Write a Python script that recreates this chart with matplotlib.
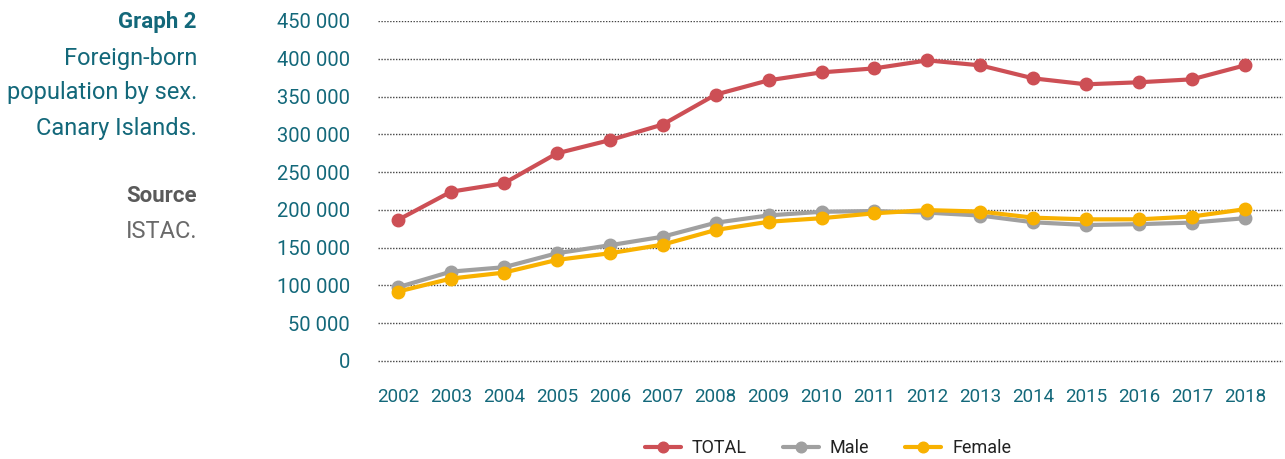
import matplotlib.pyplot as plt
from matplotlib.ticker import FuncFormatter

# Foreign-born population by sex, Canary Islands
years = list(range(2002, 2019))
total = [186800, 224100, 235200, 274800, 292300, 313000, 352600, 371500, 382000,
         387300, 397900, 391300, 374100, 366200, 368900, 372800, 391300]
male = [97700, 118300, 124100, 142600, 153200, 164500, 183000, 192700, 197500,
        198500, 196400, 192500, 183600, 180000, 181100, 183200, 189000]
female = [91900, 109100, 117000, 133800, 142600, 154000, 173400, 184300, 189000,
          195500, 199700, 197800, 189700, 187500, 187500, 191200, 200900]

series_names = ['TOTAL', 'Male', 'Female']
series_colors = ['#cd4f55', '#a0a0a0', '#f8b100']

TEAL = '#13687a'
plt.rcParams['font.family'] = ['Roboto', 'DejaVu Sans']

fig = plt.figure(figsize=(12.85, 4.59), dpi=100)
# axes box: y=0 at 361 px, 450 000 at 21 px; a little room below zero for the grid line
ax = fig.add_axes([378 / 1285, 1 - 364 / 459, (1283 - 378) / 1285, (364 - 21) / 459])

for vals, name, col in zip([total, male, female], series_names, series_colors):
    ax.plot(years, vals, color=col, lw=3, marker='o', ms=9, label=name,
            solid_capstyle='round', clip_on=False)

ax.set_ylim(-450000 * 3 / 340, 450000)
ax.set_xlim(2001.62, 2018.72)
ax.set_yticks(range(0, 450001, 50000))
ax.set_xticks(years)
ax.yaxis.set_major_formatter(FuncFormatter(lambda v, p: f'{int(v):,}'.replace(',', ' ')))
ax.grid(axis='y', color='#444444', ls=(0, (1, 1.1)), lw=1.0)
ax.set_axisbelow(True)
for s in ax.spines.values():
    s.set_visible(False)
ax.tick_params(length=0, labelsize=14.5, colors=TEAL)
ax.tick_params(axis='y', pad=20)
ax.tick_params(axis='x', pad=17, labelsize=13.5)

leg = ax.legend(loc='center', bbox_to_anchor=(0.497, (364 - 448) / 343), ncol=3,
                frameon=False, fontsize=13, handlelength=2.0, columnspacing=2.0,
                handletextpad=0.6, markerscale=0.85)
for t in leg.get_texts():
    t.set_color('#222222')

# side caption
x_cap = 197 / 1285
fig.text(x_cap, 1 - 22 / 459, 'Graph 2', ha='right', va='center', fontsize=16,
         fontweight='bold', color=TEAL)
for i, line in enumerate(['Foreign-born', 'population by sex.', 'Canary Islands.']):
    fig.text(x_cap, 1 - (58 + i * 35) / 459, line, ha='right', va='center',
             fontsize=17, color=TEAL)
fig.text(x_cap, 1 - 196 / 459, 'Source', ha='right', va='center', fontsize=16,
         fontweight='bold', color='#5a5a5a')
fig.text(x_cap, 1 - 231 / 459, 'ISTAC.', ha='right', va='center', fontsize=17,
         color='#6a6a6a')

fig.savefig('out.png', dpi=100)
